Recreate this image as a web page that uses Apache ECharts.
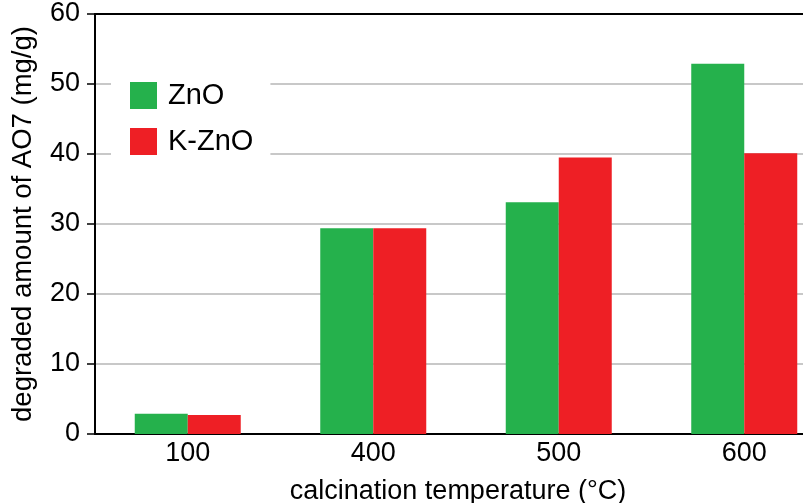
<!DOCTYPE html>
<html>
<head>
<meta charset="utf-8">
<script src="https://cdn.jsdelivr.net/npm/echarts@6/dist/echarts.min.js"></script>
<style>html,body{margin:0;padding:0;background:#fff}#c{width:803px;height:503px}</style>
</head>
<body>
<div id="c"></div>
<script>
const categories = ['100', '400', '500', '600'];
const znoValues = [2.9, 29.4, 33.1, 52.9];
const kznoValues = [2.7, 29.4, 39.5, 40.1];
const seriesNames = ['ZnO', 'K-ZnO'];
const yTicks = { min: 0, max: 60, interval: 10 };

const FONT = "'Liberation Sans', Arial, sans-serif";
const chart = echarts.init(document.getElementById('c'), null, { renderer: 'canvas' });
chart.setOption({
  animation: false,
  backgroundColor: '#ffffff',
  grid: { left: 95, top: 14, width: 742, height: 420, containLabel: false, outerBoundsMode: 'none',
          show: false },
  legend: {
    left: 111, top: 71, orient: 'vertical',
    backgroundColor: '#ffffff',
    padding: [10, 17, 8, 19],
    itemWidth: 27, itemHeight: 27, itemGap: 17,
    icon: 'rect',
    textStyle: { fontFamily: FONT, fontSize: 29, color: '#000', lineHeight: 27, padding: [0, 0, 0, 6] },
    data: seriesNames
  },
  xAxis: [{
    type: 'category', data: categories,
    axisLine: { lineStyle: { color: '#000', width: 2 } },
    axisTick: { show: false },
    axisLabel: { fontFamily: FONT, fontSize: 27, color: '#000', margin: 6 },
    name: 'calcination temperature (°C)', nameLocation: 'middle', nameGap: 44,
    nameTextStyle: { fontFamily: FONT, fontSize: 27, color: '#000', padding: [0, 16, 0, 0] }
  }, {
    type: 'category', data: categories, position: 'top',
    axisLine: { show: true, onZero: false, lineStyle: { color: '#000', width: 2 } },
    axisTick: { show: false }, axisLabel: { show: false }, splitLine: { show: false }
  }],
  yAxis: {
    type: 'value', min: yTicks.min, max: yTicks.max, interval: yTicks.interval,
    axisLine: { show: true, lineStyle: { color: '#000', width: 2 } },
    axisTick: { show: true, length: 8, lineStyle: { color: '#000', width: 1.5 } },
    axisLabel: { fontFamily: FONT, fontSize: 27, color: '#000', margin: 15 },
    splitLine: { lineStyle: { color: '#c8c8c8', width: 2 } },
    name: 'degraded amount of AO7 (mg/g)', nameLocation: 'middle', nameGap: 58,
    nameTextStyle: { fontFamily: FONT, fontSize: 27.5, color: '#000' }
  },
  series: [
    { name: seriesNames[0], type: 'bar', data: znoValues, barWidth: 53, barGap: '0%',
      itemStyle: { color: '#25b14c' } },
    { name: seriesNames[1], type: 'bar', data: kznoValues, barWidth: 53, barGap: '0%',
      itemStyle: { color: '#ee1f25' } }
  ]
});
</script>
</body>
</html>
